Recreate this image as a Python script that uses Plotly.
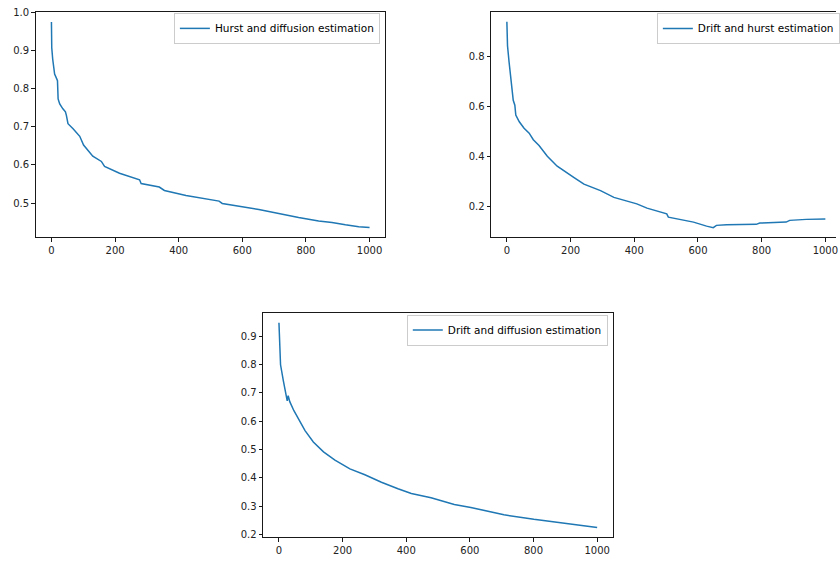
import plotly.graph_objects as go

# ---- data ----
hd_x = [0, 1, 4, 10, 17, 19, 21, 26, 36, 44, 47, 52, 68, 83, 89, 101, 130, 157, 167, 214,
        277, 282, 339, 355, 423, 527, 537, 652, 715, 777, 840, 882, 924, 966, 1000]
hd_y = [0.975, 0.907, 0.877, 0.838, 0.825, 0.821, 0.773, 0.760, 0.747, 0.739, 0.730, 0.708,
        0.695, 0.682, 0.675, 0.652, 0.623, 0.609, 0.596, 0.578, 0.561, 0.551, 0.542, 0.533,
        0.520, 0.505, 0.499, 0.483, 0.472, 0.462, 0.453, 0.449, 0.443, 0.438, 0.436]

dh_x = [0, 2, 7, 13, 18, 20, 25, 28, 39, 54, 70, 83, 101, 127, 158, 179, 211, 242, 294, 336,
        408, 440, 502, 507, 586, 627, 648, 658, 690, 783, 794, 877, 888, 940, 1000]
dh_y = [0.940, 0.844, 0.778, 0.712, 0.672, 0.626, 0.606, 0.567, 0.540, 0.514, 0.494, 0.468,
        0.445, 0.402, 0.362, 0.343, 0.316, 0.290, 0.264, 0.237, 0.211, 0.194, 0.171, 0.158,
        0.138, 0.122, 0.116, 0.125, 0.127, 0.129, 0.134, 0.138, 0.145, 0.149, 0.150]

dd_x = [0, 2, 5, 14, 21, 26, 29, 31, 34, 47, 62, 82, 108, 140, 176, 223, 270, 322, 374, 416,
        478, 551, 603, 707, 801, 916, 1000]
dd_y = [0.947, 0.845, 0.799, 0.741, 0.695, 0.672, 0.690, 0.680, 0.669, 0.637, 0.606, 0.567,
        0.527, 0.492, 0.463, 0.432, 0.411, 0.385, 0.362, 0.345, 0.330, 0.306, 0.296, 0.270,
        0.254, 0.237, 0.2255]

names = ["Hurst and diffusion estimation", "Drift and hurst estimation",
         "Drift and diffusion estimation"]
x_ticks = [0, 200, 400, 600, 800, 1000]

W, H = 840, 563
BLUE = "#1f77b4"
FONT = "DejaVu Sans"

fig = go.Figure()
fig.add_trace(go.Scatter(x=hd_x, y=hd_y, mode="lines", name=names[0],
                         line=dict(color=BLUE, width=1.5), xaxis="x", yaxis="y",
                         legend="legend"))
fig.add_trace(go.Scatter(x=dh_x, y=dh_y, mode="lines", name=names[1],
                         line=dict(color=BLUE, width=1.5), xaxis="x2", yaxis="y2",
                         legend="legend2"))
fig.add_trace(go.Scatter(x=dd_x, y=dd_y, mode="lines", name=names[2],
                         line=dict(color=BLUE, width=1.5), xaxis="x3", yaxis="y3",
                         legend="legend3"))


def ax(domain, rng, tickvals, fmt, anchor, mirror=True):
    return dict(domain=domain, range=rng, tickvals=tickvals, tickformat=fmt,
                anchor=anchor, showline=True, linecolor="black", linewidth=0.9,
                mirror=mirror, ticks="outside", ticklen=3.5, tickwidth=0.9,
                tickcolor="black", showgrid=False, zeroline=False,
                tickfont=dict(family=FONT, size=10, color="#222"))


def legend(x, xanchor, ytop):
    return dict(x=x, xanchor=xanchor, y=1 - ytop / H, yanchor="top",
                bgcolor="rgba(255,255,255,0.85)", bordercolor="#cccccc", borderwidth=1,
                font=dict(family=FONT, size=10.5, color="black"),
                itemwidth=30, tracegroupgap=0)


top_dom = [1 - 235.7 / H, 1 - 6.7 / H]
bot_dom = [1 - 540.0 / H, 1 - 312.3 / H]

fig.update_layout(
    width=W, height=H, autosize=False,
    margin=dict(l=0, r=0, t=0, b=0),
    paper_bgcolor="white", plot_bgcolor="white",
    showlegend=True,
    xaxis=ax([35.7 / W, 387.3 / W], [-50, 1050], x_ticks, "d", "y"),
    yaxis=ax(top_dom, [0.410, 1.002], [0.5, 0.6, 0.7, 0.8, 0.9, 1.0], ".1f", "x"),
    xaxis2=ax([493.3 / W, 1.0], [-50, 1033.4], x_ticks, "d", "y2"),
    yaxis2=ax(top_dom, [0.077, 0.981], [0.2, 0.4, 0.6, 0.8], ".1f", "x2", mirror=False),
    xaxis3=ax([264.3 / W, 616.0 / W], [-50, 1050], x_ticks, "d", "y3"),
    yaxis3=ax(bot_dom, [0.1906, 0.982], [0.2, 0.3, 0.4, 0.5, 0.6, 0.7, 0.8, 0.9], ".1f", "x3"),
    legend=legend(381.7 / W, "right", 8),
    legend2=legend(660 / W, "left", 8),
    legend3=legend(610.7 / W, "right", 314),
)

post = ("document.body.style.margin='0';"
        "document.body.style.padding='0';"
        "document.documentElement.style.overflow='hidden';")
fig.write_html("out.html", post_script=post,
               config={"displayModeBar": False, "staticPlot": True})
